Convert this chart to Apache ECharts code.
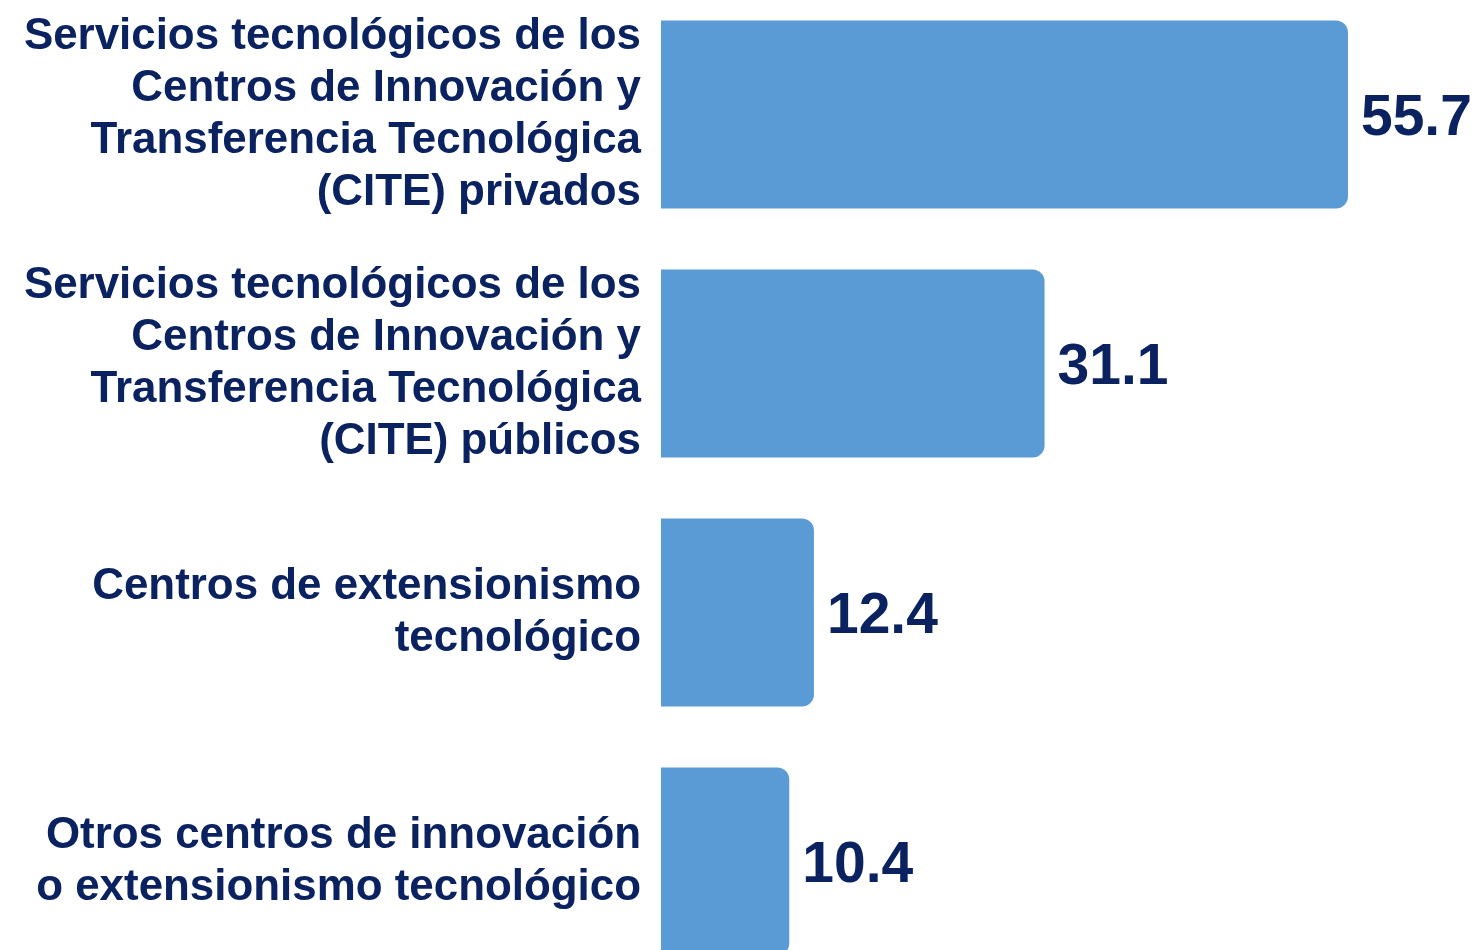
<!DOCTYPE html>
<html>
<head>
<meta charset="utf-8">
<script src="https://cdn.jsdelivr.net/npm/echarts@6/dist/echarts.min.js"></script>
<style>
  html, body { margin: 0; padding: 0; background: #ffffff; }
  #chart { width: 1480px; height: 950px; }
</style>
</head>
<body>
<div id="chart"></div>
<script>
var categories = [
  'Servicios tecnológicos de los\nCentros de Innovación y\nTransferencia Tecnológica\n(CITE) privados',
  'Servicios tecnológicos de los\nCentros de Innovación y\nTransferencia Tecnológica\n(CITE) públicos',
  'Centros de extensionismo\ntecnológico',
  'Otros centros de innovación\no extensionismo tecnológico'
];
var values = [55.7, 31.1, 12.4, 10.4];

var navy = '#0b2260';
var chart = echarts.init(document.getElementById('chart'));
chart.setOption({
  animation: false,
  backgroundColor: '#ffffff',
  grid: { left: 661, width: 740, top: -10, height: 996, outerBoundsMode: 'none', containLabel: false },
  xAxis: {
    type: 'value',
    min: 0,
    max: 60,
    show: false
  },
  yAxis: {
    type: 'category',
    inverse: true,
    data: categories,
    axisLine: { show: false },
    axisTick: { show: false },
    axisLabel: {
      margin: 20,
      color: navy,
      fontFamily: 'Liberation Sans',
      fontWeight: 'bold',
      fontSize: 43.9,
      lineHeight: 52,
      align: 'right'
    }
  },
  series: [{
    type: 'bar',
    data: values,
    barCategoryGap: '24.5%',
    itemStyle: { color: '#5b9bd5', borderRadius: [0, 12, 12, 0] },
    label: {
      show: true,
      position: 'right',
      distance: 13,
      offset: [0, 5],
      color: navy,
      fontFamily: 'Liberation Sans',
      fontWeight: 'bold',
      fontSize: 57,
      formatter: function (p) { return p.value.toFixed(1); }
    }
  }]
});
</script>
</body>
</html>
